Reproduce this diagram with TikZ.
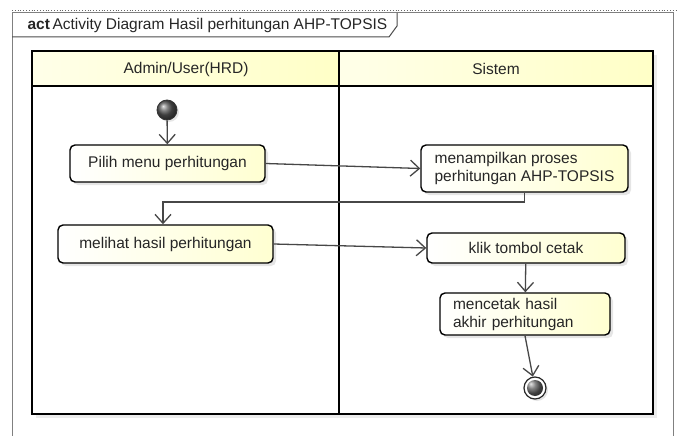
\documentclass[tikz,border=0pt]{standalone}
\usepackage{fontspec}
\setmainfont{Liberation Sans}
\usepackage{tikz}
\usetikzlibrary{arrows.meta, shadows}
\definecolor{inkgray}{rgb}{0.15, 0.15, 0.15}
\definecolor{lanecream}{rgb}{1, 1, 0.78}
\definecolor{boxcream}{rgb}{1, 1, 0.82}

\begin{document}
\begin{tikzpicture}[x=1pt, y=-1pt,
		font=\fontsize{15.5}{18}\selectfont, text=inkgray,
		action/.style={draw=black, line width=1.4pt, rounded corners=5pt, left color=white, right color=boxcream,
			inner xsep=13pt, inner ysep=0pt,
			drop shadow={shadow xshift=3pt, shadow yshift=-3pt, opacity=0.2}},
		flow/.style={draw=black!72, line width=1.3pt, -{Straight Barb[length=9pt, width=16pt]}},
		initial/.style={circle, draw=black!80, line width=0.8pt, minimum size=20pt, inner sep=0pt, ball color=gray!70!black,
			drop shadow={shadow xshift=2pt, shadow yshift=-2pt, opacity=0.2}},
		final/.style={circle, draw=black!85, line width=1.2pt, minimum size=22pt, inner sep=0pt, fill=white,
			path picture={\shade[ball color=gray!70!black] (path picture bounding box.center) circle (8pt);},
			drop shadow={shadow xshift=2pt, shadow yshift=-2pt, opacity=0.2}}]
		\useasboundingbox (0,0) rectangle (678,436);
		\draw [black!60, dotted, line width=0.8pt] (12,10)--(678,10);
		\draw [gray, line width=1pt] (12,436)--(12,13)--(673,13)--(673,436);
		\draw [black!70, line width=1pt] (12,37)--(389,37)--(397,26)--(397,13);
		\node [anchor=west] (title) at (24,25) {\textbf{act}\,Activity Diagram Hasil perhitungan AHP-TOPSIS};

		\filldraw [fill=white, draw=black, line width=2pt, drop shadow={shadow xshift=4pt, shadow yshift=-4pt, opacity=0.15}] (32,51) rectangle (653,414);
		\foreach \xa/\xb in {32/339,339/653}{
			\shade [left color=lanecream!40, right color=lanecream] (\xa+1,52) rectangle (\xb-1,86);
		}
		\draw [black, line width=2pt] (32,51) rectangle (653,414);
		\draw [black, line width=2pt] (32,86)--(653,86);
		\draw [black, line width=2pt] (339,51)--(339,414);
		\node (laneadmin) at (186,69) {Admin/User(HRD)};
		\node (lanesistem) at (496,69) {Sistem};

		\node [initial] (start) at (167,110) {};
		\node [action, minimum width=195pt, minimum height=37pt] (pilih) at (167.5,163.5) {Pilih menu perhitungan};
		\node [action, minimum width=207pt, minimum height=47pt, align=left] (tampil) at (524.5,168.5) {menampilkan proses\\perhitungan AHP-TOPSIS};
		\node [action, minimum width=215pt, minimum height=38pt] (lihat) at (165.5,244) {melihat hasil perhitungan};
		\node [action, minimum width=198pt, minimum height=30pt] (cetak) at (526,248) {klik tombol cetak};
		\node [action, minimum width=170pt, minimum height=42pt, text width=144pt, align=left] (hasil) at (525,314) {mencetak hasil\\akhir perhitungan};
		\node [final] (end) at (535,388) {};
		\coordinate (bend) at (163,202);

		\draw [flow] (start)--(pilih);
		\draw [flow] (pilih.east)--(tampil.west);
		\draw [flow] (tampil.south) |- (bend)--(bend |- lihat.north);
		\draw [flow] (lihat.east)--(cetak.west);
		\draw [flow] (cetak)--(hasil);
		\draw [flow] (hasil.south)--(end);
	\end{tikzpicture}
\end{document}
